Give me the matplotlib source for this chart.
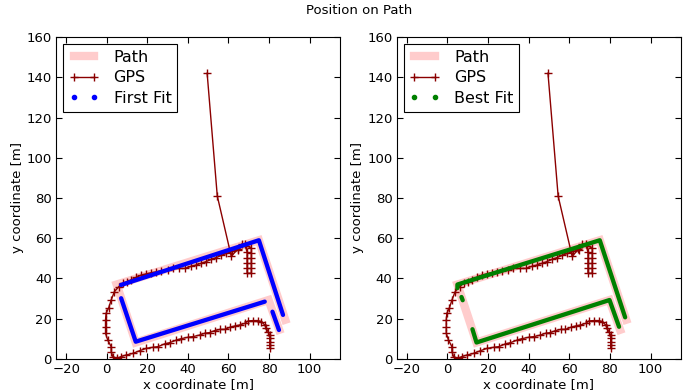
import numpy as np
import matplotlib
matplotlib.use("Agg")
import matplotlib.pyplot as plt
from matplotlib.lines import Line2D

# ---- data ----
path_x = [88.0, 75.0, 4.9, 14.3, 79.8, 85.0]
path_y = [19.5, 59.0, 37.0, 8.2, 29.3, 14.5]

gps_x = [49.5, 54.5, 61.4, 64.5, 66.5, 68.5, 69.2, 69.2, 69.2, 69.2, 69.2,
         71.3, 71.3, 71.3, 71.3, 71.3, 71.3, 68.0,
         64.7, 62.0, 59.0, 56.5, 54.0, 51.5, 49.0, 46.5, 44.0, 41.5, 38.5, 35.5,
         32.5, 30.0, 27.0, 24.5, 22.0, 19.5, 17.0, 14.5, 12.0, 10.0, 8.0, 6.0,
         3.8, 2.2, 1.0, -0.3, -0.6, -0.6, -0.6, 0.5, 2.2, 2.2, 3.0, 5.0,
         7.1, 9.6, 12.9, 16.2, 19.5, 22.7, 25.2, 28.5, 31.0, 34.3, 36.7, 40.0,
         42.5, 45.8, 48.3, 50.7, 53.2, 55.7, 58.1, 60.6, 63.1, 65.5, 68.0, 69.7,
         72.1, 74.6, 76.2, 77.9, 78.7, 79.5, 80.4, 80.4, 80.4, 80.4, 80.4]
gps_y = [142.0, 81.0, 51.0, 54.5, 57.0, 56.0, 53.0, 50.0, 47.5, 45.0, 42.6,
         42.6, 45.0, 47.5, 50.0, 52.5, 55.0, 57.0,
         54.2, 53.5, 52.5, 51.5, 50.4, 49.5, 48.4, 47.5, 46.7, 46.0, 45.0, 45.0,
         45.0, 44.3, 43.9, 43.3, 42.9, 42.3, 41.7, 40.5, 39.3, 38.4, 37.6, 36.0,
         33.5, 29.3, 25.5, 22.7, 19.4, 16.1, 12.8, 9.4, 6.1, 3.7, 1.2, 0.3,
         1.2, 2.0, 2.8, 4.1, 5.3, 5.8, 6.1, 7.5, 8.1, 9.4, 10.1, 10.8,
         11.1, 11.9, 12.8, 13.1, 14.1, 14.7, 14.7, 15.7, 16.4, 16.9, 17.7, 18.9,
         19.1, 19.1, 18.6, 16.9, 15.2, 13.6, 11.9, 10.3, 8.6, 7.0, 5.3]

# fitted positions: segment end points (NaN separates pieces)
first_x = [7.1, 75.0, 86.9, np.nan, 81.7, 84.9, np.nan, 77.9, 14.3, 7.1]
first_y = [36.8, 59.0, 21.9, np.nan, 23.5, 14.4, np.nan, 28.5, 8.6, 30.2]

best_x = [4.9, 4.9, 75.0, 87.5, np.nan, 84.5, 79.8, 14.3, 12.3, np.nan, 6.9, 7.5]
best_y = [35.2, 37.0, 59.0, 20.7, np.nan, 16.0, 29.3, 8.2, 14.8, np.nan, 30.8, 29.2]

xticks = [-20, 0, 20, 40, 60, 80, 100]
yticks = [0, 20, 40, 60, 80, 100, 120, 140, 160]

plt.rcParams['font.family'] = ['DejaVu Sans']
plt.rcParams['xtick.direction'] = 'in'
plt.rcParams['ytick.direction'] = 'in'
plt.rcParams['xtick.top'] = True
plt.rcParams['ytick.right'] = True

fig = plt.figure(figsize=(6.88, 3.92), dpi=100, facecolor='white')
ax1 = fig.add_axes([0.0814, 0.0842, 0.4128, 0.8214])
ax2 = fig.add_axes([0.5766, 0.0842, 0.4132, 0.8214])

pink = (1.0, 0.8, 0.8)
darkred = '#8b0000'

for ax, fx, fy, col, lab in [(ax1, first_x, first_y, 'blue', 'First Fit'),
                             (ax2, best_x, best_y, 'green', 'Best Fit')]:
    ax.plot(path_x, path_y, color=pink, lw=6, solid_capstyle='projecting',
            solid_joinstyle='miter', zorder=1)
    ax.plot(gps_x, gps_y, color=darkred, lw=1, marker='+', ms=6, mew=1, zorder=2)
    ax.plot(fx, fy, color=col, lw=3.1, solid_capstyle='round', zorder=3)
    ax.set_xlim(-25, 115)
    ax.set_ylim(0, 160)
    ax.set_xticks(xticks)
    ax.set_yticks(yticks)
    ax.tick_params(labelsize=9.5, length=4, width=0.8, pad=3)
    ax.set_xlabel('x coordinate [m]', fontsize=9.5, labelpad=1)
    ax.set_ylabel('y coordinate [m]', fontsize=9.5, labelpad=2)
    handles = [Line2D([], [], color=pink, lw=6),
               Line2D([], [], color=darkred, lw=1, marker='+', ms=6, mew=1),
               Line2D([], [], color=col, ls='None', marker='.', ms=6)]
    leg = ax.legend(handles, ['Path', 'GPS', lab], loc='upper left', numpoints=2,
                    fontsize=11.5, fancybox=False, framealpha=1, edgecolor='black',
                    handlelength=1.9, handletextpad=0.9, borderpad=0.35,
                    labelspacing=0.35, borderaxespad=0.45)
    leg.get_frame().set_linewidth(0.8)

fig.text(0.5215, 0.973, 'Position on Path', ha='center', va='center', fontsize=9.5)

fig.savefig('out.png', dpi=100, facecolor='white')
